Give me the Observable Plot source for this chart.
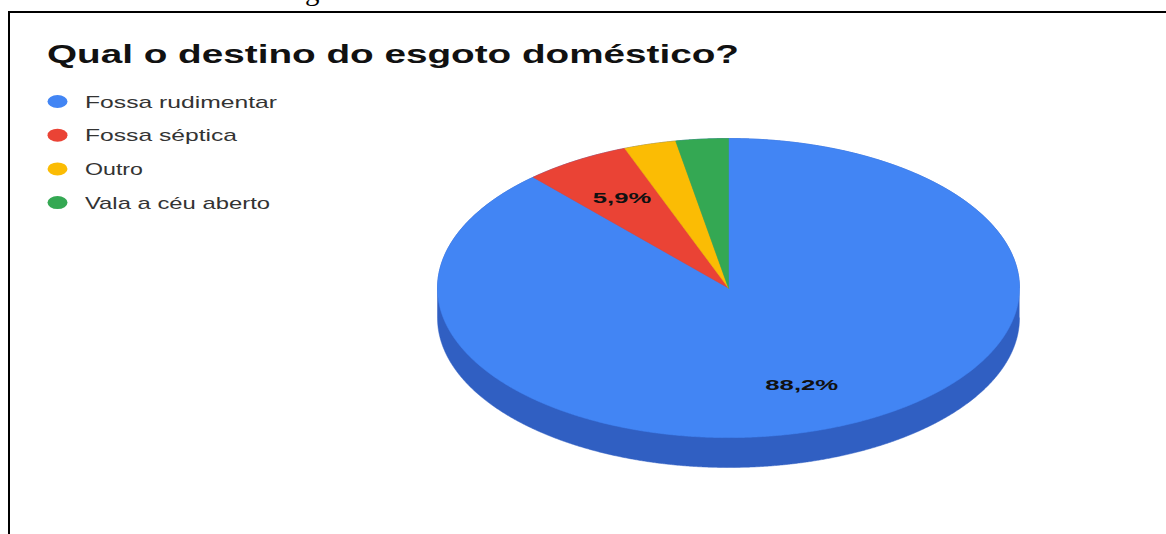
<!DOCTYPE html>
<html>
<head>
<meta charset="utf-8">
<script src="https://cdn.jsdelivr.net/npm/d3@7"></script>
<script src="https://cdn.jsdelivr.net/npm/@observablehq/plot@0.6"></script>
<style>
  html, body { margin: 0; padding: 0; background: #fff; }
  #wrap { position: relative; width: 1166px; height: 534px; overflow: hidden; background: #fff; }
  #wrap > svg { position: absolute; left: 0; top: 0; }
  #frame { position: absolute; left: 8px; top: 11px; width: 1200px; height: 600px;
           border-left: 2px solid #000; border-top: 2px solid #000; box-sizing: border-box; }
</style>
</head>
<body>
<div id="wrap"><div id="frame"></div></div>
<script>
// ---- data ----
const caption = "Gráfico 3 – Destino do esgoto doméstico.";
const title = "Qual o destino do esgoto doméstico?";
const categories = ["Fossa rudimentar", "Fossa séptica", "Outro", "Vala a céu aberto"];
const percentages = [88.2, 5.9, 2.9, 2.9];
const colors = ["#4285f4", "#ea4335", "#fbbc04", "#34a853"];
const sideColor = "#305fc2";

// ---- geometry helpers (data units: ellipse radius 1) ----
const depth = 0.2;          // thickness of the 3D side, in radius units
const labelRadius = 0.70;   // where slice labels sit
const step = 0.004;

const arcs = d3.pie().sort(null).value(d => d)(percentages);

// top-face slice polygons
const slicePts = [];
arcs.forEach((a, i) => {
  const key = categories[i];
  slicePts.push({key, x: 0, y: 0});
  for (let t = a.startAngle; t < a.endAngle; t += step) {
    slicePts.push({key, x: Math.sin(t), y: Math.cos(t)});
  }
  slicePts.push({key, x: Math.sin(a.endAngle), y: Math.cos(a.endAngle)});
  slicePts.push({key, x: 0, y: 0});
});

// side (extrusion) polygon: lower half of shifted ellipse + upper half of top ellipse
const sidePts = [];
for (let t = Math.PI / 2; t <= 3 * Math.PI / 2 + 1e-9; t += step) {
  sidePts.push({x: Math.sin(t), y: Math.cos(t) - depth});
}
for (let t = 3 * Math.PI / 2; t <= 5 * Math.PI / 2 + 1e-9; t += step) {
  sidePts.push({x: Math.sin(t), y: Math.cos(t)});
}

// labels (only slices of 5% or more, as in the reference)
const labelData = arcs
  .map((a, i) => {
    const m = (a.startAngle + a.endAngle) / 2;
    return {
      text: percentages[i].toFixed(1).replace(".", ",") + "%",
      pct: percentages[i],
      x: labelRadius * Math.sin(m),
      y: labelRadius * Math.cos(m)
    };
  })
  .filter(d => d.pct >= 5);

const plot = Plot.plot({
  width: 1166,
  height: 534,
  margin: 0,
  style: {background: "transparent"},
  x: {domain: [-1, 1], range: [437, 1019], axis: null},
  y: {domain: [-1 - depth, 1], range: [467, 138], axis: null},
  color: {domain: categories, range: colors},
  marks: [
    Plot.line(sidePts, {x: "x", y: "y", fill: sideColor, stroke: sideColor, strokeWidth: 0.5, curve: "linear"}),
    Plot.line(slicePts, {x: "x", y: "y", z: "key", fill: "key", stroke: "key", strokeWidth: 0.6, curve: "linear"}),
    Plot.text(labelData, {x: "x", y: "y", text: "text", fill: "#111", fontWeight: "bold",
      fontSize: 14, fontFamily: "Liberation Sans, Arial, sans-serif"})
  ]
});

// stretch slice labels horizontally like the reference rendering
plot.querySelectorAll('g[aria-label="text"] text').forEach(t => {
  const n = t.textContent.length;
  t.setAttribute("textLength", n * 14.6);
  t.setAttribute("lengthAdjust", "spacingAndGlyphs");
});

const wrap = document.getElementById("wrap");
wrap.insertBefore(plot, document.getElementById("frame"));

// ---- overlay: cut-off caption, title, legend ----
const ov = d3.select("#wrap").append("svg")
  .attr("width", 1166).attr("height", 534)
  .style("position", "absolute").style("left", 0).style("top", 0);

ov.append("text")
  .attr("x", 8).attr("y", -0.5)
  .attr("font-family", "Liberation Serif, Times New Roman, serif")
  .attr("font-size", 27)
  .attr("textLength", 482).attr("lengthAdjust", "spacingAndGlyphs")
  .attr("fill", "#000")
  .text(caption);

ov.append("text")
  .attr("x", 47).attr("y", 63)
  .attr("font-family", "Liberation Sans, Arial, sans-serif")
  .attr("font-weight", "bold")
  .attr("font-size", 25)
  .attr("textLength", 692).attr("lengthAdjust", "spacingAndGlyphs")
  .attr("fill", "#111")
  .text(title);

const legendWidths = [192, 152, 58, 185];
const lg = ov.append("g");
categories.forEach((c, i) => {
  const cy = 101.5 + i * 33.7;
  lg.append("ellipse").attr("cx", 57.5).attr("cy", cy).attr("rx", 10).attr("ry", 6.5).attr("fill", colors[i]);
  lg.append("text")
    .attr("x", 85).attr("y", cy + 6)
    .attr("font-family", "Liberation Sans, Arial, sans-serif")
    .attr("font-size", 17)
    .attr("textLength", legendWidths[i]).attr("lengthAdjust", "spacingAndGlyphs")
    .attr("fill", "#333")
    .text(c);
});
</script>
</body>
</html>
